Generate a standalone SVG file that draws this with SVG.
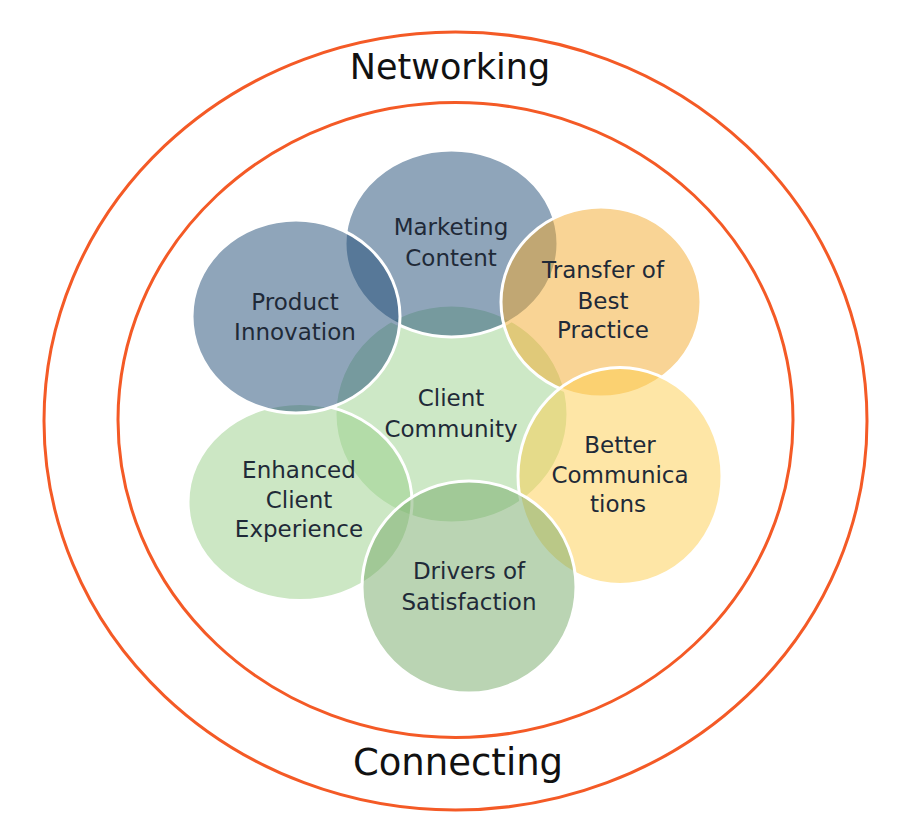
<svg xmlns="http://www.w3.org/2000/svg" width="900" height="824" viewBox="0 0 900 824">
<style>
.ring{fill:none;stroke:#F45A26;stroke-width:3}
.c{stroke:#FFFFFF;stroke-width:3;fill-opacity:0.5}
.lbl{font-family:"DejaVu Sans","Liberation Sans",sans-serif;font-size:23px;fill:#1F2A38;text-anchor:middle}
.ttl{font-family:"DejaVu Sans","Liberation Sans",sans-serif;font-size:35px;fill:#111111;text-anchor:middle}
</style>
<rect width="900" height="824" fill="#FFFFFF"/>
<g id="outer-ring">
<ellipse class="ring" cx="455.5" cy="421" rx="411.5" ry="389"/>
<text class="ttl" x="450" y="79">Networking</text>
<text class="ttl" x="458" y="775" style="font-size:37px">Connecting</text>
</g>
<g id="inner-ring">
<ellipse class="ring" cx="455.5" cy="420" rx="337.5" ry="317.5"/>
</g>
<g id="client-community">
<ellipse class="c" fill="#9BD18D" cx="451.5" cy="414" rx="116.5" ry="109"/>
<text class="lbl" x="451" y="406">Client</text>
<text class="lbl" x="451" y="437">Community</text>
</g>
<g id="enhanced-client-experience">
<ellipse class="c" fill="#99CF89" cx="300" cy="502" rx="112" ry="98.5"/>
<text class="lbl" x="299" y="478">Enhanced</text>
<text class="lbl" x="299" y="508">Client</text>
<text class="lbl" x="299" y="537">Experience</text>
</g>
<g id="marketing-content">
<ellipse class="c" fill="#1F4B75" cx="451.5" cy="243.5" rx="106.5" ry="93.5"/>
<text class="lbl" x="451" y="235">Marketing</text>
<text class="lbl" x="451" y="266">Content</text>
</g>
<g id="product-innovation">
<ellipse class="c" fill="#1F4B75" cx="296" cy="316.5" rx="104" ry="96.5"/>
<text class="lbl" x="295" y="310">Product</text>
<text class="lbl" x="295" y="340">Innovation</text>
</g>
<g id="transfer-of-best-practice">
<ellipse class="c" fill="#F3A92B" cx="601" cy="302" rx="100" ry="95"/>
<text class="lbl" x="603" y="278">Transfer of</text>
<text class="lbl" x="603" y="309">Best</text>
<text class="lbl" x="603" y="338">Practice</text>
</g>
<g id="better-communications">
<ellipse class="c" fill="#FDCD4D" cx="620" cy="476" rx="102" ry="108.5"/>
<text class="lbl" x="620" y="453">Better</text>
<text class="lbl" x="620" y="483">Communica</text>
<text class="lbl" x="618" y="512">tions</text>
</g>
<g id="drivers-of-satisfaction">
<ellipse class="c" fill="#75A967" cx="469" cy="587" rx="107" ry="106"/>
<text class="lbl" x="469" y="579">Drivers of</text>
<text class="lbl" x="469" y="610">Satisfaction</text>
</g>
<g id="connectors"></g>
</svg>
